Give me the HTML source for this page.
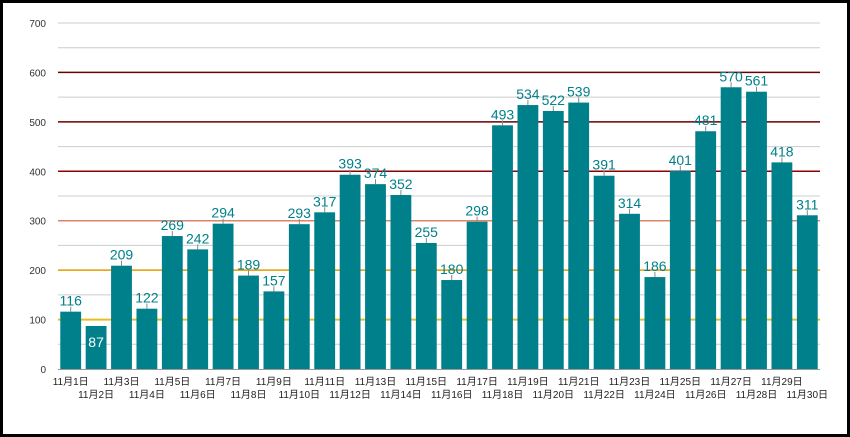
<!DOCTYPE html>
<html><head><meta charset="utf-8"><style>
html,body{margin:0;padding:0;background:#fff}
svg{display:block}
text{font-family:"Liberation Sans","Noto Sans CJK JP",sans-serif}
</style></head><body>
<svg id="c" width="850" height="437">
<rect x="1.5" y="1.5" width="847" height="434" fill="#fff" stroke="#000" stroke-width="3"/>
<g id="grid"></g><g id="bars"></g><g id="labels"></g>
</svg>
<script>
const categories=[];for(let i=1;i<=30;i++)categories.push('11月'+i+'日');
const values=[116,87,209,122,269,242,294,189,157,293,317,393,374,352,255,180,298,493,534,522,539,391,314,186,401,481,570,561,418,311];
const yTicks=[0,100,200,300,400,500,600,700];
const x0=58,x1=820,yTop=23,yBot=369,yMax=700;
const ns='http://www.w3.org/2000/svg';
const y=v=>yBot-(v/yMax)*(yBot-yTop);
const step=(x1-x0)/categories.length;
const bx=i=>x0+i*step;
function mk(t,a,p){const e=document.createElementNS(ns,t);for(const k in a)e.setAttribute(k,a[k]);p.appendChild(e);return e;}
const G=document.getElementById('grid'),B=document.getElementById('bars'),L=document.getElementById('labels');
const lineCol={100:'#e6c01e',200:'#e69a00',300:'#d9866a',400:'#8b0000',500:'#6b0000',600:'#6b0000'};
for(let v=50;v<=yMax;v+=50){
 const col=lineCol[v]||'#cccccc';
 const l=mk('line',{x1:x0,x2:x1,y1:y(v),y2:y(v),stroke:col,'stroke-width':(v===100?2:(lineCol[v]?1.5:1))},G);
 
 
}
yTicks.forEach(v=>{
 const t=mk('text',{x:46,y:y(v)+4,'text-anchor':'end','font-size':10,fill:'#333'},G);t.textContent=v;
 
 
});
const ax=mk('line',{x1:x0,x2:x1,y1:yBot+0.5,y2:yBot+0.5,stroke:'#999'},G);


values.forEach((v,i)=>{
 const bw=step*0.82,x=bx(i)+(step-bw)/2,cx=bx(i)+step/2;
 const r=mk('rect',{x:x,y:y(v),width:bw,height:yBot-y(v),fill:'#00808a'},B);
 
 
 const inside=(yBot-y(v))>20&&v<100;
 if(!inside) mk('line',{x1:cx,x2:cx,y1:y(v)-5,y2:y(v),stroke:'#888'},L);
 const t=mk('text',{x:cx,y:inside?y(v)+21:y(v)-6,'text-anchor':'middle','font-size':14,fill:inside?'#fff':'#00808a'},L);
 t.textContent=v;
 
 
 const c=mk('text',{x:cx,y:i%2===0?385:398,'text-anchor':'middle','font-size':10,fill:'#222'},L);
 c.textContent=categories[i];
 
 
});
</script>
</body></html>
